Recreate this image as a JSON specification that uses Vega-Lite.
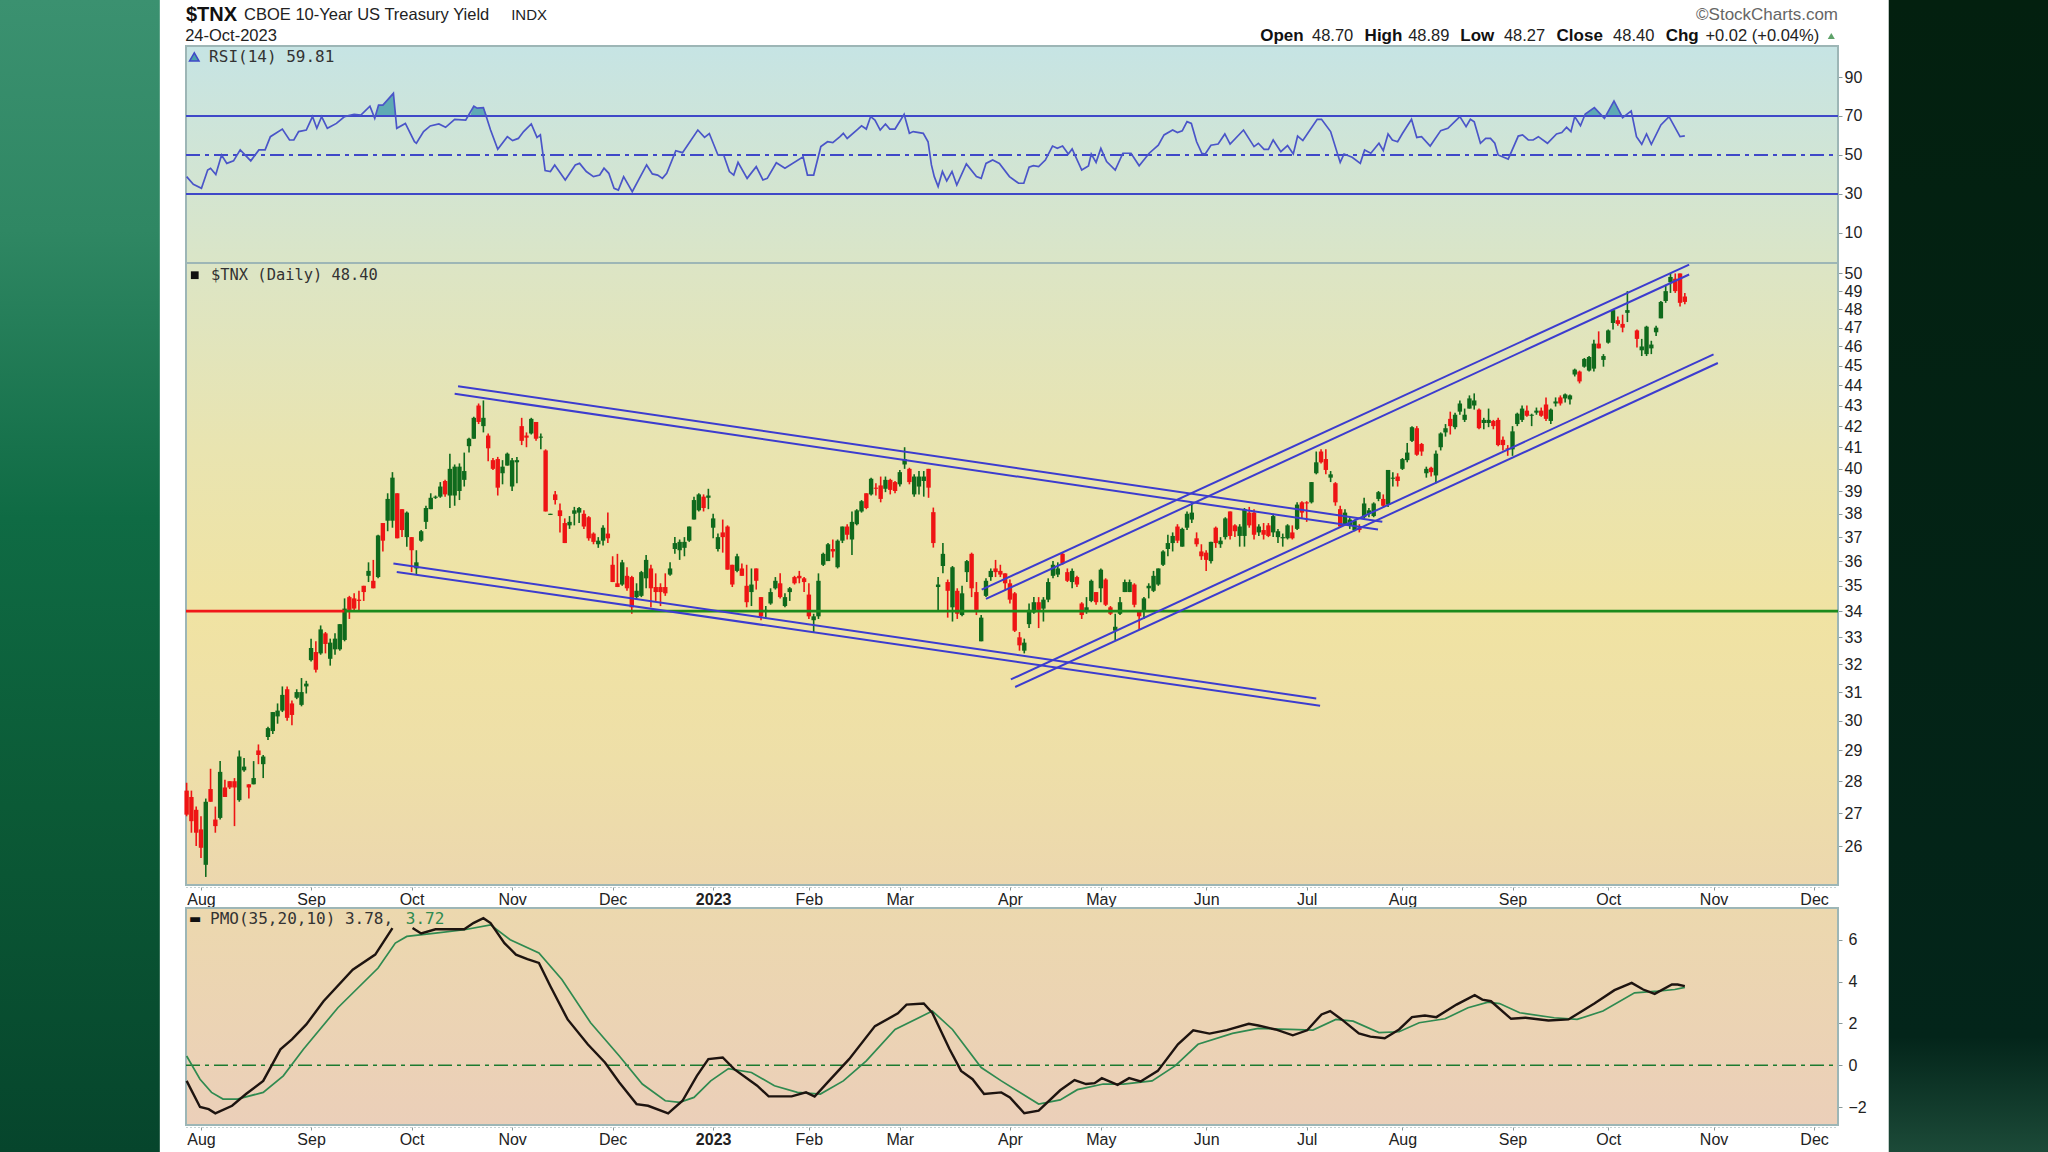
{"$schema":"https://vega.github.io/schema/vega-lite/v6.json",
"width":2048,"height":1152,"padding":0,"autosize":"none","background":"#ffffff",
"config":{"view":{"stroke":null},"axis":{"grid":false,"title":null,"labelFont":"Liberation Sans","labelFontSize":16,"labelColor":"#222222","tickColor":"#8a9a9a","labelOverlap":false,"labelFlush":false}},
"datasets":{
"candles":[
{"i":0,"o":27.7,"h":27.95,"l":26.9,"c":26.95,"d":"dn"},{"i":1,"o":27.5,"h":27.7,"l":26.4,"c":26.75,"d":"dn"},{"i":2,"o":27.1,"h":27.2,"l":26.0,"c":26.4,"d":"dn"},{"i":3,"o":26.5,"h":26.9,"l":25.65,"c":25.95,"d":"dn"},{"i":4,"o":25.45,"h":27.45,"l":25.1,"c":27.35,"d":"up"},{"i":5,"o":27.75,"h":28.4,"l":27.35,"c":27.35,"d":"dn"},{"i":6,"o":26.8,"h":27.2,"l":26.4,"c":26.6,"d":"dn"},{"i":7,"o":26.85,"h":28.65,"l":26.8,"c":28.3,"d":"up"},{"i":8,"o":27.8,"h":28.05,"l":27.5,"c":27.5,"d":"dn"},{"i":9,"o":28,"h":28,"l":27.75,"c":27.8,"d":"dn"},
{"i":10,"o":28,"h":28.1,"l":26.6,"c":27.8,"d":"dn"},{"i":11,"o":27.4,"h":29,"l":27.35,"c":28.8,"d":"up"},{"i":12,"o":28.35,"h":28.75,"l":28.3,"c":28.47,"d":"up"},{"i":13,"o":27.9,"h":27.9,"l":27.45,"c":27.8,"d":"dn"},{"i":14,"o":27.9,"h":28.65,"l":27.9,"c":28.1,"d":"up"},{"i":15,"o":29,"h":29.2,"l":28.55,"c":28.85,"d":"dn"},{"i":16,"o":28.55,"h":28.85,"l":28.1,"c":28.8,"d":"up"},{"i":17,"o":29.45,"h":29.8,"l":29.35,"c":29.75,"d":"up"},{"i":18,"o":29.65,"h":30.3,"l":29.55,"c":30.3,"d":"up"},{"i":19,"o":30.15,"h":30.6,"l":29.9,"c":30.35,"d":"up"},
{"i":20,"o":30.35,"h":31.2,"l":30.3,"c":30.9,"d":"up"},{"i":21,"o":31.1,"h":31.2,"l":30,"c":30.1,"d":"dn"},{"i":22,"o":30.6,"h":30.7,"l":29.85,"c":30.2,"d":"dn"},{"i":23,"o":30.8,"h":31.1,"l":30.75,"c":31,"d":"up"},{"i":24,"o":30.55,"h":31.5,"l":30.5,"c":31,"d":"up"},{"i":25,"o":31.2,"h":31.4,"l":30.95,"c":31.3,"d":"up"},{"i":26,"o":32.15,"h":32.95,"l":32.1,"c":32.6,"d":"up"},{"i":27,"o":32.45,"h":32.85,"l":31.7,"c":31.8,"d":"dn"},{"i":28,"o":32.4,"h":33.45,"l":32.35,"c":33.3,"d":"up"},{"i":29,"o":33.15,"h":33.2,"l":32.4,"c":32.75,"d":"dn"},
{"i":30,"o":32.2,"h":32.95,"l":31.95,"c":32.8,"d":"up"},{"i":31,"o":32.55,"h":33.15,"l":32.35,"c":32.95,"d":"up"},{"i":32,"o":32.55,"h":33.5,"l":32.5,"c":33.5,"d":"up"},{"i":33,"o":32.9,"h":34.5,"l":32.85,"c":34.1,"d":"up"},{"i":34,"o":34.55,"h":34.6,"l":33.7,"c":34.05,"d":"dn"},{"i":35,"o":34.5,"h":34.7,"l":34.05,"c":34.1,"d":"dn"},{"i":36,"o":34.45,"h":34.8,"l":34.05,"c":34.4,"d":"dn"},{"i":37,"o":35,"h":35,"l":34.4,"c":34.75,"d":"dn"},{"i":38,"o":35.4,"h":35.95,"l":35.15,"c":35.6,"d":"up"},{"i":39,"o":35.2,"h":36.05,"l":34.9,"c":34.9,"d":"dn"},
{"i":40,"o":35.35,"h":37.1,"l":35.3,"c":37.07,"d":"up"},{"i":41,"o":37.6,"h":37.6,"l":36.4,"c":36.85,"d":"dn"},{"i":42,"o":37.7,"h":38.9,"l":37.25,"c":38.65,"d":"up"},{"i":43,"o":37.7,"h":39.85,"l":37.4,"c":39.6,"d":"up"},{"i":44,"o":38.9,"h":38.9,"l":36.95,"c":36.95,"d":"dn"},{"i":45,"o":38.2,"h":38.2,"l":37,"c":37.3,"d":"dn"},{"i":46,"o":37,"h":38.1,"l":36.6,"c":38.05,"d":"up"},{"i":47,"o":37,"h":37,"l":35.55,"c":36.45,"d":"dn"},{"i":48,"o":35.7,"h":36.45,"l":35.45,"c":35.95,"d":"up"},{"i":49,"o":36.85,"h":37.3,"l":36.8,"c":37.25,"d":"up"},
{"i":50,"o":37.65,"h":38.35,"l":37.35,"c":38.25,"d":"up"},{"i":51,"o":38.2,"h":38.9,"l":38.2,"c":38.7,"d":"up"},{"i":52,"o":38.7,"h":38.8,"l":38.65,"c":38.75,"d":"up"},{"i":53,"o":38.75,"h":39.4,"l":38.7,"c":39.2,"d":"up"},{"i":54,"o":39.45,"h":39.5,"l":38.75,"c":38.85,"d":"dn"},{"i":55,"o":38.8,"h":40.7,"l":38.25,"c":40,"d":"up"},{"i":56,"o":38.8,"h":40.2,"l":38.35,"c":40.1,"d":"up"},{"i":57,"o":39,"h":40.25,"l":38.6,"c":40.1,"d":"up"},{"i":58,"o":39.5,"h":40.75,"l":39.2,"c":39.9,"d":"up"},{"i":59,"o":41.05,"h":41.45,"l":40.75,"c":41.4,"d":"up"},
{"i":60,"o":41.4,"h":42.45,"l":41.4,"c":42.4,"d":"up"},{"i":61,"o":43,"h":43.1,"l":42.1,"c":42.2,"d":"dn"},{"i":62,"o":42,"h":43.25,"l":41.7,"c":42.4,"d":"up"},{"i":63,"o":41.55,"h":41.65,"l":40.35,"c":40.95,"d":"dn"},{"i":64,"o":40.4,"h":40.5,"l":39.95,"c":40,"d":"dn"},{"i":65,"o":40.45,"h":40.55,"l":38.8,"c":39.15,"d":"dn"},{"i":66,"o":39.8,"h":40.4,"l":39.3,"c":40.1,"d":"up"},{"i":67,"o":40.15,"h":40.75,"l":40.15,"c":40.7,"d":"up"},{"i":68,"o":39.2,"h":40.5,"l":39,"c":40.4,"d":"up"},{"i":69,"o":40.3,"h":40.55,"l":39.35,"c":40.4,"d":"up"},
{"i":70,"o":42,"h":42.4,"l":41.1,"c":41.3,"d":"dn"},{"i":71,"o":41.55,"h":41.7,"l":41,"c":41.45,"d":"dn"},{"i":72,"o":41.65,"h":42.4,"l":41.6,"c":42.35,"d":"up"},{"i":73,"o":42.2,"h":42.2,"l":41.3,"c":41.4,"d":"dn"},{"i":74,"o":41.45,"h":41.65,"l":40.9,"c":41.5,"d":"up"},{"i":75,"o":40.85,"h":40.9,"l":38.1,"c":38.1,"d":"dn"},{"i":76,"o":38,"h":38,"l":37.95,"c":37.95,"d":"up"},{"i":77,"o":38.85,"h":39,"l":38.4,"c":38.6,"d":"dn"},{"i":78,"o":38.15,"h":38.45,"l":37.2,"c":37.9,"d":"dn"},{"i":79,"o":37.6,"h":37.8,"l":36.75,"c":36.75,"d":"dn"},
{"i":80,"o":37.5,"h":37.9,"l":37.35,"c":37.65,"d":"up"},{"i":81,"o":38,"h":38.3,"l":37.5,"c":38.15,"d":"up"},{"i":82,"o":38.05,"h":38.3,"l":37.6,"c":38.25,"d":"up"},{"i":83,"o":38,"h":38.15,"l":37.35,"c":37.45,"d":"dn"},{"i":84,"o":37.85,"h":37.9,"l":36.85,"c":36.95,"d":"dn"},{"i":85,"o":37.15,"h":37.2,"l":36.7,"c":36.8,"d":"dn"},{"i":86,"o":36.7,"h":37,"l":36.55,"c":36.85,"d":"up"},{"i":87,"o":36.85,"h":37.5,"l":36.65,"c":37.4,"d":"up"},{"i":88,"o":37.15,"h":38.05,"l":36.75,"c":36.95,"d":"dn"},{"i":89,"o":35.85,"h":36.2,"l":35.15,"c":35.15,"d":"dn"},
{"i":90,"o":35.1,"h":36.3,"l":34.95,"c":34.95,"d":"dn"},{"i":91,"o":35.05,"h":36.05,"l":35,"c":35.95,"d":"up"},{"i":92,"o":35.4,"h":35.75,"l":34.8,"c":34.9,"d":"dn"},{"i":93,"o":35.35,"h":35.4,"l":33.9,"c":34.15,"d":"dn"},{"i":94,"o":34.55,"h":35.1,"l":34.45,"c":34.8,"d":"up"},{"i":95,"o":34.6,"h":35.6,"l":34.55,"c":35.55,"d":"up"},{"i":96,"o":35.3,"h":36.25,"l":34.9,"c":36.05,"d":"up"},{"i":97,"o":35.7,"h":35.85,"l":34.15,"c":34.9,"d":"dn"},{"i":98,"o":34.95,"h":35.5,"l":34.4,"c":34.75,"d":"dn"},{"i":99,"o":34.95,"h":35.1,"l":34.2,"c":34.75,"d":"dn"},
{"i":100,"o":34.95,"h":35.5,"l":34.6,"c":34.7,"d":"dn"},{"i":101,"o":35.45,"h":35.95,"l":35.4,"c":35.7,"d":"up"},{"i":102,"o":36.5,"h":37,"l":36.3,"c":36.75,"d":"up"},{"i":103,"o":36.45,"h":36.9,"l":36.05,"c":36.8,"d":"up"},{"i":104,"o":36.55,"h":37,"l":36.2,"c":36.8,"d":"up"},{"i":105,"o":36.85,"h":37.45,"l":36.8,"c":37.45,"d":"up"},{"i":106,"o":37.75,"h":38.75,"l":37.75,"c":38.6,"d":"up"},{"i":107,"o":38.15,"h":38.9,"l":38.1,"c":38.85,"d":"up"},{"i":108,"o":38.75,"h":38.85,"l":38.1,"c":38.25,"d":"dn"},{"i":109,"o":38.7,"h":39.1,"l":38.2,"c":38.8,"d":"up"},
{"i":110,"o":37.4,"h":38,"l":36.95,"c":37.8,"d":"up"},{"i":111,"o":36.5,"h":37.15,"l":36.4,"c":37,"d":"up"},{"i":112,"o":37.2,"h":37.75,"l":36.35,"c":37,"d":"dn"},{"i":113,"o":37.45,"h":37.5,"l":35.65,"c":35.65,"d":"dn"},{"i":114,"o":35.85,"h":35.85,"l":34.95,"c":35.05,"d":"dn"},{"i":115,"o":35.6,"h":36.3,"l":35.55,"c":36.2,"d":"up"},{"i":116,"o":35.7,"h":35.9,"l":35.4,"c":35.4,"d":"dn"},{"i":117,"o":35,"h":35.85,"l":34.15,"c":34.35,"d":"dn"},{"i":118,"o":34.75,"h":35.7,"l":34.2,"c":35.05,"d":"up"},{"i":119,"o":35.7,"h":35.7,"l":34.85,"c":35.2,"d":"dn"},
{"i":120,"o":34.55,"h":34.55,"l":33.65,"c":33.8,"d":"dn"},{"i":121,"o":34,"h":34.2,"l":33.7,"c":34.05,"d":"up"},{"i":122,"o":34.3,"h":34.9,"l":34.25,"c":34.75,"d":"up"},{"i":123,"o":34.9,"h":35.35,"l":34.85,"c":35.2,"d":"up"},{"i":124,"o":35.1,"h":35.5,"l":34.5,"c":34.55,"d":"dn"},{"i":125,"o":34.2,"h":34.7,"l":34.15,"c":34.55,"d":"up"},{"i":126,"o":34.75,"h":34.95,"l":34.4,"c":34.9,"d":"up"},{"i":127,"o":35.35,"h":35.4,"l":35.05,"c":35.1,"d":"dn"},{"i":128,"o":35.4,"h":35.6,"l":35.1,"c":35.3,"d":"dn"},{"i":129,"o":35.3,"h":35.35,"l":34.75,"c":35.15,"d":"dn"},
{"i":130,"o":34.65,"h":35.1,"l":33.7,"c":33.8,"d":"dn"},{"i":131,"o":33.65,"h":33.9,"l":33.2,"c":33.8,"d":"up"},{"i":132,"o":33.8,"h":35.5,"l":33.7,"c":35.2,"d":"up"},{"i":133,"o":35.85,"h":36.35,"l":35.8,"c":36.3,"d":"up"},{"i":134,"o":36,"h":36.75,"l":36,"c":36.7,"d":"up"},{"i":135,"o":36.5,"h":36.9,"l":36.15,"c":36.4,"d":"dn"},{"i":136,"o":35.75,"h":36.9,"l":35.7,"c":36.85,"d":"up"},{"i":137,"o":36.85,"h":37.45,"l":36.75,"c":37.45,"d":"up"},{"i":138,"o":37.45,"h":37.55,"l":36.9,"c":37.1,"d":"dn"},{"i":139,"o":36.9,"h":38.1,"l":36.25,"c":37.65,"d":"up"},
{"i":140,"o":37.55,"h":38.2,"l":37.5,"c":38.15,"d":"up"},{"i":141,"o":38.1,"h":38.6,"l":38.05,"c":38.55,"d":"up"},{"i":142,"o":38.9,"h":38.9,"l":38.2,"c":38.25,"d":"dn"},{"i":143,"o":38.85,"h":39.6,"l":38.8,"c":39.55,"d":"up"},{"i":144,"o":39.15,"h":39.35,"l":38.8,"c":39.1,"d":"dn"},{"i":145,"o":39.25,"h":39.65,"l":38.5,"c":38.65,"d":"dn"},{"i":146,"o":39.1,"h":39.65,"l":38.95,"c":39.5,"d":"up"},{"i":147,"o":39.5,"h":39.55,"l":38.85,"c":39.05,"d":"dn"},{"i":148,"o":39.4,"h":39.45,"l":38.9,"c":39,"d":"dn"},{"i":149,"o":39.3,"h":39.95,"l":39.2,"c":39.85,"d":"up"},
{"i":150,"o":40.2,"h":41,"l":40,"c":40.45,"d":"up"},{"i":151,"o":40,"h":40.05,"l":39.3,"c":39.4,"d":"dn"},{"i":152,"o":38.85,"h":39.75,"l":38.75,"c":39.65,"d":"up"},{"i":153,"o":39.2,"h":39.9,"l":38.85,"c":39.65,"d":"up"},{"i":154,"o":39.45,"h":39.9,"l":38.75,"c":39.65,"d":"up"},{"i":155,"o":40,"h":40,"l":38.7,"c":39.15,"d":"dn"},{"i":156,"o":38.07,"h":38.27,"l":36.56,"c":36.75,"d":"dn"},{"i":157,"o":34.95,"h":35.35,"l":34,"c":35.05,"d":"up"},{"i":158,"o":35.8,"h":36.75,"l":35.5,"c":36.3,"d":"up"},{"i":159,"o":35.15,"h":35.25,"l":33.75,"c":34.8,"d":"dn"},
{"i":160,"o":34.15,"h":35.8,"l":33.6,"c":35.75,"d":"up"},{"i":161,"o":34.8,"h":34.9,"l":33.7,"c":33.9,"d":"dn"},{"i":162,"o":33.85,"h":35,"l":33.8,"c":34.7,"d":"up"},{"i":163,"o":35.55,"h":36.05,"l":35.15,"c":36,"d":"up"},{"i":164,"o":36.3,"h":36.35,"l":34.55,"c":34.9,"d":"dn"},{"i":165,"o":34.75,"h":35.15,"l":33.85,"c":34.05,"d":"dn"},{"i":166,"o":32.85,"h":33.85,"l":32.85,"c":33.75,"d":"up"},{"i":167,"o":34.6,"h":35.3,"l":34.55,"c":35.2,"d":"up"},{"i":168,"o":35.35,"h":35.7,"l":35.2,"c":35.6,"d":"up"},{"i":169,"o":35.7,"h":36.05,"l":35.35,"c":35.55,"d":"dn"},
{"i":170,"o":35.6,"h":35.85,"l":35.35,"c":35.45,"d":"dn"},{"i":171,"o":35.5,"h":35.5,"l":34.8,"c":35.1,"d":"dn"},{"i":172,"o":35.1,"h":35.25,"l":34.3,"c":34.45,"d":"dn"},{"i":173,"o":34.7,"h":34.75,"l":33.2,"c":33.25,"d":"dn"},{"i":174,"o":33,"h":33.2,"l":32.5,"c":32.7,"d":"dn"},{"i":175,"o":32.5,"h":32.95,"l":32.4,"c":32.8,"d":"up"},{"i":176,"o":33.5,"h":34.3,"l":33.35,"c":34.05,"d":"up"},{"i":177,"o":33.95,"h":34.55,"l":33.9,"c":34.35,"d":"up"},{"i":178,"o":34.35,"h":34.55,"l":33.35,"c":34.05,"d":"dn"},{"i":179,"o":34.1,"h":34.55,"l":33.6,"c":34.45,"d":"up"},
{"i":180,"o":34.45,"h":35.3,"l":34.35,"c":35.15,"d":"up"},{"i":181,"o":35.4,"h":36,"l":35.3,"c":35.85,"d":"up"},{"i":182,"o":35.45,"h":35.95,"l":35.35,"c":35.7,"d":"up"},{"i":183,"o":36.3,"h":36.35,"l":35.85,"c":35.9,"d":"dn"},{"i":184,"o":35.55,"h":35.7,"l":35.15,"c":35.2,"d":"dn"},{"i":185,"o":35.15,"h":35.7,"l":34.9,"c":35.6,"d":"up"},{"i":186,"o":35.35,"h":35.4,"l":34.95,"c":35.05,"d":"dn"},{"i":187,"o":34.3,"h":34.35,"l":33.7,"c":33.85,"d":"dn"},{"i":188,"o":34,"h":34.55,"l":33.9,"c":34.15,"d":"up"},{"i":189,"o":34.4,"h":35.25,"l":34.35,"c":35.2,"d":"up"},
{"i":190,"o":34.75,"h":34.75,"l":34.25,"c":34.35,"d":"dn"},{"i":191,"o":34.9,"h":35.7,"l":34.35,"c":35.65,"d":"up"},{"i":192,"o":35.25,"h":35.3,"l":34.2,"c":34.25,"d":"dn"},{"i":193,"o":34.15,"h":34.2,"l":33.85,"c":33.9,"d":"dn"},{"i":194,"o":33.25,"h":33.9,"l":32.9,"c":33.4,"d":"up"},{"i":195,"o":33.9,"h":34.55,"l":33.85,"c":34.35,"d":"up"},{"i":196,"o":34.75,"h":35.25,"l":34.75,"c":35.15,"d":"up"},{"i":197,"o":34.75,"h":35.25,"l":34.75,"c":35.15,"d":"up"},{"i":198,"o":35.05,"h":35.1,"l":34.15,"c":34.25,"d":"dn"},{"i":199,"o":34,"h":34.05,"l":33.3,"c":33.8,"d":"dn"},
{"i":200,"o":34,"h":34.55,"l":33.7,"c":34.5,"d":"up"},{"i":201,"o":34.9,"h":35.1,"l":34.5,"c":35,"d":"up"},{"i":202,"o":34.8,"h":35.6,"l":34.75,"c":35.4,"d":"up"},{"i":203,"o":35.05,"h":35.7,"l":35,"c":35.7,"d":"up"},{"i":204,"o":35.85,"h":36.45,"l":35.8,"c":36.4,"d":"up"},{"i":205,"o":36.5,"h":37.1,"l":36.2,"c":36.75,"d":"up"},{"i":206,"o":36.75,"h":37.2,"l":36.4,"c":37.05,"d":"up"},{"i":207,"o":37.45,"h":37.55,"l":36.75,"c":36.85,"d":"dn"},{"i":208,"o":36.6,"h":37.4,"l":36.6,"c":37.35,"d":"up"},{"i":209,"o":37.4,"h":38.1,"l":37.3,"c":38,"d":"up"},
{"i":210,"o":37.75,"h":38.5,"l":37.6,"c":38.05,"d":"up"},{"i":211,"o":36.95,"h":37.2,"l":36.6,"c":36.7,"d":"dn"},{"i":212,"o":36.4,"h":36.7,"l":36.05,"c":36.2,"d":"dn"},{"i":213,"o":36.35,"h":36.45,"l":35.6,"c":36.05,"d":"dn"},{"i":214,"o":36,"h":36.8,"l":35.9,"c":36.8,"d":"up"},{"i":215,"o":37.4,"h":37.45,"l":36.55,"c":36.75,"d":"dn"},{"i":216,"o":36.7,"h":37,"l":36.55,"c":36.85,"d":"up"},{"i":217,"o":37,"h":37.85,"l":36.9,"c":37.8,"d":"up"},{"i":218,"o":38.1,"h":38.1,"l":36.9,"c":37.05,"d":"dn"},{"i":219,"o":37.5,"h":37.55,"l":37,"c":37.25,"d":"dn"},
{"i":220,"o":37.05,"h":37.55,"l":36.6,"c":37.45,"d":"up"},{"i":221,"o":37.05,"h":38.25,"l":36.6,"c":38.2,"d":"up"},{"i":222,"o":38.05,"h":38.3,"l":37.4,"c":37.5,"d":"dn"},{"i":223,"o":38.05,"h":38.2,"l":36.9,"c":37.1,"d":"dn"},{"i":224,"o":37.2,"h":37.55,"l":37.05,"c":37.45,"d":"up"},{"i":225,"o":37.3,"h":37.6,"l":36.9,"c":37.1,"d":"dn"},{"i":226,"o":37.5,"h":37.6,"l":37,"c":37.05,"d":"dn"},{"i":227,"o":37.2,"h":38,"l":37,"c":37.9,"d":"up"},{"i":228,"o":37,"h":37.35,"l":36.75,"c":37.25,"d":"up"},{"i":229,"o":36.95,"h":37.15,"l":36.6,"c":37,"d":"up"},
{"i":230,"o":36.95,"h":37.55,"l":36.9,"c":37.5,"d":"up"},{"i":231,"o":37.2,"h":37.5,"l":36.9,"c":36.95,"d":"dn"},{"i":232,"o":37.35,"h":38.5,"l":37.3,"c":38.4,"d":"up"},{"i":233,"o":38.5,"h":38.55,"l":37.8,"c":38.05,"d":"dn"},{"i":234,"o":38.5,"h":38.55,"l":37.65,"c":38.45,"d":"dn"},{"i":235,"o":38.5,"h":39.4,"l":38.45,"c":39.4,"d":"up"},{"i":236,"o":39.8,"h":40.8,"l":39.75,"c":40.3,"d":"up"},{"i":237,"o":40.8,"h":40.9,"l":40.25,"c":40.3,"d":"dn"},{"i":238,"o":40.45,"h":40.9,"l":39.75,"c":39.95,"d":"dn"},{"i":239,"o":39.6,"h":39.9,"l":39.4,"c":39.75,"d":"up"},
{"i":240,"o":39.35,"h":39.4,"l":38.35,"c":38.5,"d":"dn"},{"i":241,"o":38.2,"h":38.35,"l":37.4,"c":37.45,"d":"dn"},{"i":242,"o":37.55,"h":38.2,"l":37.5,"c":38.05,"d":"up"},{"i":243,"o":37.5,"h":37.85,"l":37.35,"c":37.75,"d":"up"},{"i":244,"o":37.3,"h":37.75,"l":37.25,"c":37.7,"d":"up"},{"i":245,"o":37.4,"h":37.55,"l":37.2,"c":37.3,"d":"dn"},{"i":246,"o":37.85,"h":38.7,"l":37.75,"c":38.45,"d":"up"},{"i":247,"o":38,"h":38.25,"l":37.85,"c":38.15,"d":"up"},{"i":248,"o":37.9,"h":38.5,"l":37.85,"c":38.45,"d":"up"},{"i":249,"o":38.65,"h":39,"l":38.55,"c":38.95,"d":"up"},
{"i":250,"o":38.65,"h":38.85,"l":38.25,"c":38.35,"d":"dn"},{"i":251,"o":38.4,"h":39.95,"l":38.3,"c":39.95,"d":"up"},{"i":252,"o":39.55,"h":39.85,"l":39.2,"c":39.6,"d":"up"},{"i":253,"o":39.65,"h":39.8,"l":39.2,"c":39.45,"d":"dn"},{"i":254,"o":40,"h":40.5,"l":39.95,"c":40.45,"d":"up"},{"i":255,"o":40.4,"h":41.2,"l":40.3,"c":40.75,"d":"up"},{"i":256,"o":41.3,"h":42,"l":41.25,"c":41.95,"d":"up"},{"i":257,"o":41.9,"h":42,"l":40.6,"c":40.65,"d":"dn"},{"i":258,"o":41.15,"h":41.2,"l":40.6,"c":40.8,"d":"dn"},{"i":259,"o":39.8,"h":40.1,"l":39.6,"c":40,"d":"up"},
{"i":260,"o":40.05,"h":40.1,"l":39.65,"c":39.85,"d":"dn"},{"i":261,"o":39.7,"h":40.85,"l":39.35,"c":40.7,"d":"up"},{"i":262,"o":41,"h":41.7,"l":40.85,"c":41.65,"d":"up"},{"i":263,"o":41.7,"h":42.1,"l":41.5,"c":41.9,"d":"up"},{"i":264,"o":42.35,"h":42.7,"l":41.6,"c":42,"d":"dn"},{"i":265,"o":41.95,"h":42.65,"l":41.85,"c":42.55,"d":"up"},{"i":266,"o":42.7,"h":43.25,"l":42.55,"c":43.1,"d":"up"},{"i":267,"o":42.3,"h":42.85,"l":42.2,"c":42.55,"d":"up"},{"i":268,"o":42.85,"h":43.5,"l":42.85,"c":43.35,"d":"up"},{"i":269,"o":43,"h":43.6,"l":42.8,"c":43.25,"d":"up"},
{"i":270,"o":42.8,"h":42.85,"l":41.85,"c":41.9,"d":"dn"},{"i":271,"o":42.15,"h":42.4,"l":41.85,"c":42.3,"d":"up"},{"i":272,"o":42.15,"h":42.85,"l":41.95,"c":42.3,"d":"up"},{"i":273,"o":42.25,"h":42.3,"l":41.85,"c":42,"d":"dn"},{"i":274,"o":42.3,"h":42.4,"l":41.05,"c":41.1,"d":"dn"},{"i":275,"o":41.35,"h":41.5,"l":40.85,"c":41.1,"d":"dn"},{"i":276,"o":40.95,"h":41.1,"l":40.6,"c":40.9,"d":"dn"},{"i":277,"o":40.9,"h":42,"l":40.6,"c":41.75,"d":"up"},{"i":278,"o":42.1,"h":42.65,"l":42,"c":42.6,"d":"up"},{"i":279,"o":42.3,"h":43,"l":42.2,"c":42.85,"d":"up"},
{"i":280,"o":42.75,"h":43,"l":42.45,"c":42.5,"d":"dn"},{"i":281,"o":42.5,"h":42.6,"l":42,"c":42.55,"d":"up"},{"i":282,"o":42.65,"h":42.9,"l":42.55,"c":42.75,"d":"up"},{"i":283,"o":42.75,"h":42.9,"l":42.45,"c":42.5,"d":"dn"},{"i":284,"o":43.05,"h":43.4,"l":42.25,"c":42.35,"d":"dn"},{"i":285,"o":42.25,"h":42.85,"l":42.1,"c":42.8,"d":"up"},{"i":286,"o":43.1,"h":43.4,"l":42.95,"c":43.2,"d":"up"},{"i":287,"o":43.4,"h":43.5,"l":43,"c":43.1,"d":"dn"},{"i":288,"o":43.35,"h":43.6,"l":43.15,"c":43.55,"d":"up"},{"i":289,"o":43.3,"h":43.55,"l":43.05,"c":43.5,"d":"up"},
{"i":290,"o":44.55,"h":44.85,"l":44.45,"c":44.8,"d":"up"},{"i":291,"o":44.7,"h":44.75,"l":44.1,"c":44.2,"d":"dn"},{"i":292,"o":44.95,"h":45.4,"l":44.9,"c":45.35,"d":"up"},{"i":293,"o":44.75,"h":45.5,"l":44.7,"c":45.45,"d":"up"},{"i":294,"o":44.85,"h":46.35,"l":44.7,"c":46.15,"d":"up"},{"i":295,"o":46.15,"h":46.8,"l":45.9,"c":45.9,"d":"dn"},{"i":296,"o":45.3,"h":45.6,"l":44.95,"c":45.5,"d":"up"},{"i":297,"o":46.2,"h":46.9,"l":46.15,"c":46.85,"d":"up"},{"i":298,"o":47.25,"h":48,"l":46.9,"c":47.95,"d":"up"},{"i":299,"o":47.4,"h":47.6,"l":47.1,"c":47.2,"d":"dn"},
{"i":300,"o":47.2,"h":47.7,"l":46.75,"c":47,"d":"dn"},{"i":301,"o":47.8,"h":49,"l":47.3,"c":47.95,"d":"up"},{"i":303,"o":46.85,"h":46.9,"l":45.95,"c":46.4,"d":"dn"},{"i":304,"o":45.8,"h":46.4,"l":45.5,"c":46,"d":"up"},{"i":305,"o":45.6,"h":47.1,"l":45.5,"c":47.05,"d":"up"},{"i":306,"o":45.9,"h":46.3,"l":45.6,"c":46.1,"d":"up"},{"i":307,"o":46.75,"h":47.1,"l":46.55,"c":47,"d":"up"},{"i":308,"o":47.5,"h":48.45,"l":47.5,"c":48.4,"d":"up"},{"i":309,"o":48.45,"h":49.35,"l":48.35,"c":49,"d":"up"},
{"i":310,"o":49.5,"h":50,"l":48.9,"c":49.8,"d":"up"},{"i":311,"o":49.7,"h":50,"l":48.9,"c":49,"d":"dn"},{"i":312,"o":50,"h":50,"l":48.15,"c":48.35,"d":"dn"},{"i":313,"o":48.7,"h":48.89,"l":48.27,"c":48.4,"d":"dn"}
],
"rsi":[
{"i":0,"v":38.9},{"i":1.4,"v":35},{"i":3.1,"v":32.9},{"i":4.4,"v":42.3},{"i":5,"v":43.2},{"i":6.1,"v":40},{"i":7.3,"v":50},{"i":8.4,"v":45.7},{"i":9.8,"v":47},{"i":11.2,"v":52.6},{"i":13.4,"v":47},{"i":15.1,"v":52.6},{"i":16.4,"v":52.6},{"i":17.5,"v":59.4},{"i":20,"v":63.3},{"i":21.5,"v":57.7},{"i":22.4,"v":57.7},{"i":23.4,"v":62},{"i":25,"v":62.8},{"i":26.3,"v":69.7},{"i":27.2,"v":63.7},{"i":28.2,"v":69.7},{"i":29.4,"v":63.7},{"i":31.3,"v":66.2},{"i":33,"v":69.7},{"i":35,"v":70.9},{"i":36.4,"v":70.5},{"i":38.3,"v":75},{"i":39.3,"v":68.8},{"i":40.1,"v":75.6},{"i":41,"v":75.6},{"i":43.2,"v":81.6},{"i":43.9,"v":63.7},{"i":45.7,"v":66.2},{"i":47.6,"v":56.8},{"i":48,"v":56},{"i":49.5,"v":62},{"i":50.9,"v":64.9},{"i":52.7,"v":65.9},{"i":54.1,"v":64.2},{"i":56,"v":68.3},{"i":58.3,"v":67.9},{"i":60,"v":75},{"i":60.7,"v":74},{"i":62,"v":74.3},{"i":63.5,"v":62.8},{"i":65,"v":52.9},{"i":67,"v":59.4},{"i":68.1,"v":57.4},{"i":69.3,"v":58.5},{"i":70.4,"v":62},{"i":72,"v":65.9},{"i":73.2,"v":59},{"i":73.9,"v":60.3},{"i":74.9,"v":42},{"i":76,"v":41.5},{"i":76.9,"v":44.9},{"i":79.1,"v":37.2},{"i":81.2,"v":44.9},{"i":82.1,"v":45.7},{"i":83.5,"v":41.5},{"i":85,"v":38.9},{"i":86.3,"v":39.7},{"i":87.2,"v":43.2},{"i":88.2,"v":40.6},{"i":89.3,"v":32.9},{"i":90.2,"v":32},{"i":91.3,"v":38.9},{"i":93.1,"v":31.2},{"i":96.1,"v":44.9},{"i":97.3,"v":40.3},{"i":98.4,"v":39.7},{"i":99.4,"v":38},{"i":100.3,"v":40.6},{"i":102.2,"v":52.2},{"i":103.6,"v":51.2},{"i":106.8,"v":62.8},{"i":108.2,"v":59},{"i":109.2,"v":61},{"i":111,"v":50},{"i":112.2,"v":50},{"i":113.4,"v":41.5},{"i":114.3,"v":39.7},{"i":115.2,"v":46.2},{"i":117.1,"v":38},{"i":119,"v":44},{"i":120.4,"v":37.2},{"i":121.3,"v":38},{"i":123.2,"v":46},{"i":125,"v":43.2},{"i":128.8,"v":49.1},{"i":129.7,"v":39.7},{"i":131,"v":39.7},{"i":132.5,"v":54.3},{"i":133.9,"v":56.8},{"i":135,"v":56.3},{"i":136.5,"v":59.4},{"i":137.2,"v":61.1},{"i":138,"v":58.5},{"i":140,"v":62.8},{"i":141,"v":65},{"i":142,"v":63.3},{"i":142.9,"v":69.7},{"i":143.8,"v":67.9},{"i":144.9,"v":62.8},{"i":146,"v":65.9},{"i":146.9,"v":63.3},{"i":148,"v":63.3},{"i":149.9,"v":70.9},{"i":151,"v":61.1},{"i":151.8,"v":62},{"i":153.9,"v":61.1},{"i":154.9,"v":56.8},{"i":155.6,"v":44.9},{"i":156.2,"v":38.9},{"i":157,"v":33.8},{"i":157.9,"v":41.5},{"i":158.8,"v":36.7},{"i":159.9,"v":41.5},{"i":160.9,"v":34.6},{"i":162.9,"v":45.4},{"i":165,"v":38.9},{"i":166,"v":38},{"i":167,"v":45.7},{"i":168.4,"v":47.4},{"i":169.8,"v":45.7},{"i":171.9,"v":38.9},{"i":173.8,"v":35.5},{"i":174.9,"v":35.5},{"i":176,"v":43.7},{"i":176.9,"v":44.5},{"i":178,"v":44},{"i":179.4,"v":47.4},{"i":180.9,"v":54.6},{"i":181.9,"v":53.4},{"i":183,"v":54.6},{"i":184.2,"v":50.5},{"i":185,"v":53.1},{"i":187,"v":42.3},{"i":188.4,"v":44.4},{"i":189,"v":50.5},{"i":190,"v":46.2},{"i":191,"v":53.4},{"i":192.2,"v":46.6},{"i":194,"v":42.3},{"i":195.6,"v":50.9},{"i":197.3,"v":50.9},{"i":199,"v":44.5},{"i":201.1,"v":50.9},{"i":203,"v":55},{"i":204.2,"v":60.3},{"i":206,"v":62.8},{"i":207,"v":61.5},{"i":208,"v":62.4},{"i":209,"v":67.1},{"i":209.9,"v":66.2},{"i":211,"v":56.8},{"i":212.1,"v":50.9},{"i":212.8,"v":50.5},{"i":214,"v":55},{"i":215.5,"v":55.6},{"i":216.9,"v":60.8},{"i":218,"v":55.6},{"i":220.8,"v":62.8},{"i":223,"v":54.3},{"i":223.9,"v":56},{"i":225.1,"v":52.9},{"i":226,"v":52.9},{"i":227,"v":57.7},{"i":228.6,"v":51.7},{"i":230,"v":54.8},{"i":231.2,"v":50.5},{"i":232.1,"v":59.7},{"i":233.2,"v":57.4},{"i":236.2,"v":68.3},{"i":237.1,"v":68.3},{"i":239,"v":62},{"i":241,"v":46.2},{"i":241.8,"v":50.5},{"i":243.5,"v":48.8},{"i":245.2,"v":45.7},{"i":246.1,"v":52.6},{"i":247.4,"v":50.9},{"i":249.1,"v":56},{"i":250,"v":52.2},{"i":251,"v":60.8},{"i":251.9,"v":57.7},{"i":253,"v":56.8},{"i":254,"v":61},{"i":255.9,"v":68.3},{"i":257,"v":59},{"i":258,"v":59.4},{"i":259.8,"v":54.6},{"i":262,"v":62.5},{"i":263.5,"v":63.7},{"i":266,"v":69.7},{"i":267.3,"v":64.5},{"i":268.2,"v":68.3},{"i":269,"v":67},{"i":270.3,"v":56},{"i":271.4,"v":58.5},{"i":272.4,"v":58.5},{"i":273.3,"v":56},{"i":274,"v":50},{"i":276.1,"v":47.9},{"i":278.2,"v":59.7},{"i":279.1,"v":60.3},{"i":280.3,"v":57.7},{"i":281.3,"v":57.7},{"i":282.4,"v":59.4},{"i":284.3,"v":56},{"i":286.2,"v":60.8},{"i":287.3,"v":61.5},{"i":288.3,"v":64.2},{"i":289.2,"v":62},{"i":290,"v":69.7},{"i":291.2,"v":65},{"i":292.2,"v":71},{"i":294.1,"v":74.3},{"i":296.2,"v":68.8},{"i":298.2,"v":77.7},{"i":300,"v":69.1},{"i":301.8,"v":72.6},{"i":302.9,"v":59.4},{"i":304,"v":55.5},{"i":305,"v":60.8},{"i":306,"v":55.5},{"i":308,"v":65.4},{"i":309.7,"v":69.7},{"i":312,"v":59.4},{"i":313,"v":59.81}
],
"overbought":[
{"g":"a","i":39.5,"v":70},{"g":"a","i":40.1,"v":75.6},{"g":"a","i":41,"v":75.6},{"g":"a","i":43.2,"v":81.6},{"g":"a","i":43.7,"v":70},
{"g":"b","i":59.2,"v":70},{"g":"b","i":60,"v":75},{"g":"b","i":60.7,"v":74},{"g":"b","i":62,"v":74.3},{"g":"b","i":62.8,"v":70},
{"g":"c","i":291.8,"v":70},{"g":"c","i":292.2,"v":71},{"g":"c","i":294.1,"v":74.3},{"g":"c","i":295.8,"v":70},
{"g":"d","i":296.5,"v":70},{"g":"d","i":298.2,"v":77.7},{"g":"d","i":299.9,"v":70}
],
"pmo":[
{"i":0,"v":-0.75},{"i":2.8,"v":-2},{"i":4.6,"v":-2.1},{"i":6,"v":-2.3},{"i":9.5,"v":-1.94},{"i":12.4,"v":-1.38},{"i":16,"v":-0.75},{"i":19.6,"v":0.76},{"i":22,"v":1.24},{"i":25,"v":1.95},{"i":28.6,"v":3.06},{"i":34.7,"v":4.57},{"i":39.4,"v":5.29},{"i":43,"v":6.56},{"i":45,"v":null},{"i":47.2,"v":6.56},{"i":49,"v":6.3},{"i":52,"v":6.5},{"i":58,"v":6.5},{"i":59.9,"v":6.8},{"i":62,"v":7.03},{"i":63.5,"v":6.8},{"i":66.4,"v":5.84},{"i":68.8,"v":5.29},{"i":71.2,"v":5.08},{"i":73.6,"v":4.89},{"i":76,"v":3.78},{"i":79.6,"v":2.19},{"i":83.8,"v":1},{"i":87.4,"v":0.13},{"i":90.4,"v":-0.83},{"i":94,"v":-1.86},{"i":96.4,"v":-1.94},{"i":100.6,"v":-2.3},{"i":103.6,"v":-1.7},{"i":106.6,"v":-0.51},{"i":109,"v":0.29},{"i":112,"v":0.37},{"i":114.4,"v":-0.19},{"i":119.2,"v":-0.98},{"i":121.6,"v":-1.49},{"i":126.4,"v":-1.49},{"i":129.4,"v":-1.3},{"i":131.2,"v":-1.5},{"i":134.2,"v":-0.75},{"i":138.4,"v":0.29},{"i":143.8,"v":1.87},{"i":148.6,"v":2.48},{"i":150.4,"v":2.9},{"i":154,"v":2.95},{"i":155.8,"v":2.5},{"i":159.4,"v":0.76},{"i":161.8,"v":-0.27},{"i":164.2,"v":-0.67},{"i":166.6,"v":-1.38},{"i":170.2,"v":-1.3},{"i":172,"v":-1.54},{"i":175,"v":-2.3},{"i":178,"v":-2.17},{"i":182.5,"v":-1.2},{"i":185.5,"v":-0.71},{"i":187.9,"v":-0.9},{"i":189.7,"v":-0.86},{"i":191.2,"v":-0.62},{"i":194.5,"v":-0.94},{"i":196.9,"v":-0.62},{"i":199.3,"v":-0.78},{"i":202.9,"v":-0.27},{"i":207.1,"v":1},{"i":210.3,"v":1.67},{"i":213.7,"v":1.51},{"i":217.3,"v":1.68},{"i":221.9,"v":1.98},{"i":223.9,"v":1.9},{"i":227.5,"v":1.71},{"i":231.1,"v":1.43},{"i":234.1,"v":1.67},{"i":237.1,"v":2.43},{"i":238.9,"v":2.59},{"i":241.3,"v":2.19},{"i":244.9,"v":1.52},{"i":247.3,"v":1.37},{"i":250.3,"v":1.29},{"i":253.3,"v":1.71},{"i":256,"v":2.3},{"i":258.7,"v":2.38},{"i":261.1,"v":2.3},{"i":265.3,"v":2.9},{"i":269.1,"v":3.35},{"i":270.7,"v":3.14},{"i":272.5,"v":3.06},{"i":276.7,"v":2.22},{"i":279.7,"v":2.27},{"i":284.5,"v":2.14},{"i":288.7,"v":2.19},{"i":294.1,"v":2.95},{"i":298.3,"v":3.59},{"i":301.9,"v":3.94},{"i":304.3,"v":3.62},{"i":306.7,"v":3.41},{"i":310.3,"v":3.86},{"i":311.5,"v":3.86},{"i":313,"v":3.78}
],
"signal":[
{"i":0,"v":0.44},{"i":2.8,"v":-0.67},{"i":5.2,"v":-1.3},{"i":7.6,"v":-1.62},{"i":10.6,"v":-1.62},{"i":16,"v":-1.3},{"i":20.2,"v":-0.51},{"i":24.4,"v":0.76},{"i":31.6,"v":2.75},{"i":40,"v":4.65},{"i":43.6,"v":5.84},{"i":46,"v":6.16},{"i":52,"v":6.32},{"i":58,"v":6.48},{"i":63.5,"v":6.71},{"i":67.6,"v":6},{"i":73.6,"v":5.37},{"i":78.4,"v":4.1},{"i":84.4,"v":2.03},{"i":90.4,"v":0.44},{"i":95.2,"v":-0.9},{"i":100,"v":-1.7},{"i":103,"v":-1.78},{"i":106,"v":-1.54},{"i":109.5,"v":-0.75},{"i":113.2,"v":-0.16},{"i":118,"v":-0.35},{"i":122.8,"v":-0.98},{"i":127.6,"v":-1.3},{"i":132.4,"v":-1.38},{"i":137.2,"v":-0.75},{"i":142,"v":0.21},{"i":148,"v":1.71},{"i":155.8,"v":2.59},{"i":160,"v":1.71},{"i":166,"v":-0.11},{"i":170.2,"v":-0.75},{"i":178,"v":-1.86},{"i":182.5,"v":-1.66},{"i":186.1,"v":-1.17},{"i":191.5,"v":-0.9},{"i":195.7,"v":-0.9},{"i":201.7,"v":-0.75},{"i":206.5,"v":-0.03},{"i":211.3,"v":1},{"i":218.5,"v":1.52},{"i":223.9,"v":1.76},{"i":230.5,"v":1.71},{"i":235.3,"v":1.68},{"i":240.1,"v":2.19},{"i":243.7,"v":2.11},{"i":249.1,"v":1.56},{"i":253.3,"v":1.6},{"i":257.5,"v":2.03},{"i":262.9,"v":2.22},{"i":267.7,"v":2.75},{"i":271.9,"v":3.02},{"i":274.3,"v":2.95},{"i":278.5,"v":2.51},{"i":285.7,"v":2.27},{"i":290.5,"v":2.19},{"i":295.9,"v":2.59},{"i":302.5,"v":3.46},{"i":307.3,"v":3.54},{"i":310.9,"v":3.62},{"i":313,"v":3.72}
],
"trend":[
{"line":"a","i":56.7,"v":43.96},{"line":"a","i":249.8,"v":37.66},{"line":"b","i":56,"v":43.58},{"line":"b","i":248.9,"v":37.32},
{"line":"c","i":43.2,"v":35.9},{"line":"c","i":236,"v":30.77},{"line":"d","i":43.9,"v":35.56},{"line":"d","i":236.8,"v":30.52},
{"line":"e","i":166.1,"v":34.85},{"line":"e","i":313.9,"v":50.51},{"line":"f","i":167,"v":34.48},{"line":"f","i":313.9,"v":49.94},
{"line":"g","i":172.2,"v":31.45},{"line":"g","i":319,"v":45.59},{"line":"h","i":173.1,"v":31.18},{"line":"h","i":319.9,"v":45.14}
]
},
"encoding":{"x":{"field":"i","type":"quantitative","scale":{"domain":[-0.13,345],"range":[186,1838],"padding":0,"nice":false,"zero":false},"axis":null}},
"resolve":{"scale":{"y":"independent"},"axis":{"x":"independent","y":"independent"}},
"layer":[
{"data":{"values":[{"i":-39,"i2":-5.6}]},
 "mark":{"type":"rect","color":{"gradient":"linear","x1":0,"y1":0,"x2":0,"y2":1,"stops":[{"offset":0,"color":"#3b9170"},{"offset":0.2,"color":"#2f8763"},{"offset":0.45,"color":"#0f6b44"},{"offset":0.7,"color":"#0b5a36"},{"offset":1,"color":"#06452c"}]}},
 "encoding":{"x2":{"field":"i2"}}},
{"data":{"values":[{"i":355.6,"i2":389}]},
 "mark":{"type":"rect","color":{"gradient":"linear","x1":0,"y1":0,"x2":0,"y2":1,"stops":[{"offset":0,"color":"#03200f"},{"offset":0.9,"color":"#03251a"},{"offset":1,"color":"#1c4a38"}]}},
 "encoding":{"x2":{"field":"i2"}}},
{"encoding":{"y":{"field":"v","type":"quantitative","scale":{"domain":[-5.4,105.9],"range":[263,46],"nice":false,"zero":false},"axis":null}},
 "resolve":{"axis":{"x":"independent","y":"independent"}},
 "layer":[
 {"data":{"values":[{"i":-0.13,"i2":345,"v":-5.4,"v2":105.9}]},
  "mark":{"type":"rect","stroke":"#9db6b6","strokeWidth":2,"color":{"gradient":"linear","x1":0,"y1":0,"x2":0,"y2":1,"stops":[{"offset":0,"color":"#c6e4e4"},{"offset":1,"color":"#dae5c7"}]}},
  "encoding":{"x2":{"field":"i2"},"y":{"field":"v","type":"quantitative","scale":{"domain":[-5.4,105.9],"range":[263,46],"nice":false,"zero":false},"axis":{"orient":"right","offset":-210,"values":[10,30,50,70,90],"tickSize":4,"labelPadding":2,"domain":true,"domainDash":[1,3],"domainColor":"#8aa5a5"}},"y2":{"field":"v2"}}},
 {"data":{"name":"overbought"},"mark":{"type":"area","color":"#4aa0ad","opacity":0.85},"encoding":{"y2":{"datum":70},"detail":{"field":"g"}}},
 {"data":{"values":[{"i":-0.13,"i2":345,"v":70},{"i":-0.13,"i2":345,"v":30}]},"mark":{"type":"rule","color":"#3f48c8","strokeWidth":2},"encoding":{"x2":{"field":"i2"}}},
 {"data":{"values":[{"i":-0.13,"i2":345,"v":50}]},"mark":{"type":"rule","color":"#3f48c8","strokeWidth":1.8,"strokeDash":[14,5,4,5]},"encoding":{"x2":{"field":"i2"}}},
 {"data":{"name":"rsi"},"mark":{"type":"line","color":"#4a55c8","strokeWidth":1.7}},
 {"data":{"values":[{"t":"$TNX","i":-0.13,"v":121.8}]},"mark":{"type":"text","align":"left","baseline":"middle","font":"Liberation Sans","fontSize":20,"fontWeight":"bold","color":"#111111"},"encoding":{"text":{"field":"t"}}},
 {"data":{"values":[{"t":"CBOE 10-Year US Treasury Yield","i":12,"v":121.8},{"t":"24-Oct-2023","i":-0.3,"v":111},{"t":"48.70","i":235.1,"v":111},{"t":"48.89","i":255.2,"v":111},{"t":"48.27","i":275.2,"v":111},{"t":"48.40","i":298,"v":111},{"t":"+0.02 (+0.04%)","i":317.3,"v":111}]},"mark":{"type":"text","align":"left","baseline":"middle","font":"Liberation Sans","fontSize":16.5,"color":"#222222"},"encoding":{"text":{"field":"t"}}},
 {"data":{"values":[{"t":"INDX","i":67.8,"v":121.8}]},"mark":{"type":"text","align":"left","baseline":"middle","font":"Liberation Sans","fontSize":15,"color":"#222222"},"encoding":{"text":{"field":"t"}}},
 {"data":{"values":[{"t":"Open","i":224.3,"v":111},{"t":"High","i":246.1,"v":111},{"t":"Low","i":266.1,"v":111},{"t":"Close","i":286.2,"v":111},{"t":"Chg","i":309,"v":111}]},"mark":{"type":"text","align":"left","baseline":"middle","font":"Liberation Sans","fontSize":17,"fontWeight":"bold","color":"#111111"},"encoding":{"text":{"field":"t"}}},
 {"data":{"values":[{"t":"©StockCharts.com","i":345,"v":121.8}]},"mark":{"type":"text","align":"right","baseline":"middle","font":"Liberation Sans","fontSize":17,"color":"#666666"},"encoding":{"text":{"field":"t"}}},
 {"data":{"values":[{"i":343.6,"v":111}]},"mark":{"type":"point","shape":"triangle-up","filled":true,"size":50,"color":"#1a7a2a"}},
 {"data":{"values":[{"i":1.6,"v":100.3}]},"mark":{"type":"point","shape":"triangle-up","filled":true,"size":90,"color":"#4aa0ad","stroke":"#3f48c8","strokeWidth":1.5,"opacity":1}},
 {"data":{"values":[{"t":"RSI(14) 59.81","i":4.7,"v":100.3}]},"mark":{"type":"text","align":"left","baseline":"middle","font":"DejaVu Sans Mono","fontSize":16,"color":"#333333"},"encoding":{"text":{"field":"t"}}}
 ]},
{"encoding":{"y":{"field":"v","type":"quantitative","scale":{"type":"log","domain":[24.87,50.6],"range":[885,263],"nice":false,"zero":false},"axis":null}},
 "resolve":{"axis":{"x":"independent","y":"independent"}},
 "layer":[
 {"data":{"values":[{"i":-0.13,"i2":345,"v":24.87,"v2":50.6}]},
  "mark":{"type":"rect","stroke":"#9db6b6","strokeWidth":2,"color":{"gradient":"linear","x1":0,"y1":0,"x2":0,"y2":1,"stops":[{"offset":0,"color":"#dce5c5"},{"offset":0.3,"color":"#e9e4b0"},{"offset":0.56,"color":"#f0e3a3"},{"offset":0.8,"color":"#eedfa8"},{"offset":1,"color":"#ecd7ae"}]}},
  "encoding":{"x":{"field":"i","type":"quantitative","scale":{"domain":[-0.13,345],"range":[186,1838],"padding":0,"nice":false,"zero":false},"axis":{"orient":"bottom","offset":-265,"values":[3,26,47,68,89,110,130,149,172,191,213,234,254,277,297,319,340],"labelExpr":"{'3':'Aug','26':'Sep','47':'Oct','68':'Nov','89':'Dec','110':'2023','130':'Feb','149':'Mar','172':'Apr','191':'May','213':'Jun','234':'Jul','254':'Aug','277':'Sep','297':'Oct','319':'Nov','340':'Dec'}[datum.value]","labelFontWeight":{"condition":{"test":"datum.value==110","value":"bold"},"value":"normal"},"tickSize":3,"labelPadding":1,"domain":true,"domainDash":[1,3],"domainColor":"#8aa5a5"}},"x2":{"field":"i2"},
   "y":{"field":"v","type":"quantitative","scale":{"type":"log","domain":[24.87,50.6],"range":[885,263],"nice":false,"zero":false},"axis":{"orient":"right","offset":-210,"values":[26,27,28,29,30,31,32,33,34,35,36,37,38,39,40,41,42,43,44,45,46,47,48,49,50],"format":"d","tickSize":4,"labelPadding":2,"domain":true,"domainDash":[1,3],"domainColor":"#8aa5a5"}},"y2":{"field":"v2"}}},
 {"data":{"name":"candles"},"mark":{"type":"rule","strokeWidth":1.6},"encoding":{"y":{"field":"l","type":"quantitative","scale":{"type":"log","domain":[24.87,50.6],"range":[885,263],"nice":false,"zero":false},"axis":null},"y2":{"field":"h"},"color":{"field":"d","type":"nominal","scale":{"domain":["up","dn"],"range":["#0f6a1c","#ee1414"]},"legend":null}}},
 {"data":{"name":"candles"},"mark":{"type":"bar","width":4.4},"encoding":{"y":{"field":"o","type":"quantitative","scale":{"type":"log","domain":[24.87,50.6],"range":[885,263],"nice":false,"zero":false},"axis":null},"y2":{"field":"c"},"color":{"field":"d","type":"nominal","scale":{"domain":["up","dn"],"range":["#0f6a1c","#ee1414"]},"legend":null}}},
 {"data":{"values":[{"i":-0.13,"i2":33,"v":34}]},"mark":{"type":"rule","color":"#f01818","strokeWidth":2.6},"encoding":{"x2":{"field":"i2"}}},
 {"data":{"values":[{"i":33,"i2":345,"v":34}]},"mark":{"type":"rule","color":"#1c8a1c","strokeWidth":2.6},"encoding":{"x2":{"field":"i2"}}},
 {"data":{"name":"trend"},"mark":{"type":"line","color":"#3c3ccf","strokeWidth":2},"encoding":{"detail":{"field":"line"}}},
 {"data":{"values":[{"i":1.7,"v":49.9}]},"mark":{"type":"point","shape":"square","filled":true,"size":60,"color":"#111111","opacity":1}},
 {"data":{"values":[{"t":"$TNX (Daily) 48.40","i":5.1,"v":49.9}]},"mark":{"type":"text","align":"left","baseline":"middle","font":"DejaVu Sans Mono","fontSize":15.4,"color":"#333333"},"encoding":{"text":{"field":"t"}}}
 ]},
{"encoding":{"y":{"field":"v","type":"quantitative","scale":{"domain":[-2.86,7.52],"range":[1125,908],"nice":false,"zero":false},"axis":null}},
 "resolve":{"axis":{"x":"independent","y":"independent"}},
 "layer":[
 {"data":{"values":[{"i":-0.13,"i2":345,"v":-2.86,"v2":7.52}]},
  "mark":{"type":"rect","stroke":"#9db6b6","strokeWidth":2,"color":{"gradient":"linear","x1":0,"y1":0,"x2":0,"y2":1,"stops":[{"offset":0,"color":"#ecd8ae"},{"offset":1,"color":"#ebcfb9"}]}},
  "encoding":{"x":{"field":"i","type":"quantitative","scale":{"domain":[-0.13,345],"range":[186,1838],"padding":0,"nice":false,"zero":false},"axis":{"orient":"bottom","offset":-25,"values":[3,26,47,68,89,110,130,149,172,191,213,234,254,277,297,319,340],"labelExpr":"{'3':'Aug','26':'Sep','47':'Oct','68':'Nov','89':'Dec','110':'2023','130':'Feb','149':'Mar','172':'Apr','191':'May','213':'Jun','234':'Jul','254':'Aug','277':'Sep','297':'Oct','319':'Nov','340':'Dec'}[datum.value]","labelFontWeight":{"condition":{"test":"datum.value==110","value":"bold"},"value":"normal"},"tickSize":3,"labelPadding":1,"domain":true,"domainDash":[1,3],"domainColor":"#8aa5a5"}},"x2":{"field":"i2"},
   "y":{"field":"v","type":"quantitative","scale":{"domain":[-2.86,7.52],"range":[1125,908],"nice":false,"zero":false},"axis":{"orient":"right","offset":-210,"values":[-2,0,2,4,6],"tickSize":4,"labelPadding":6,"domain":true,"domainDash":[1,3],"domainColor":"#8aa5a5"}},"y2":{"field":"v2"}}},
 {"data":{"values":[{"i":-0.13,"i2":345,"v":0}]},"mark":{"type":"rule","color":"#1c7a30","strokeWidth":1.6,"strokeDash":[14,5,4,5]},"encoding":{"x2":{"field":"i2"}}},
 {"data":{"name":"signal"},"mark":{"type":"line","color":"#2f8a50","strokeWidth":1.7}},
 {"data":{"name":"pmo"},"mark":{"type":"line","color":"#1e1410","strokeWidth":2.4}},
 {"data":{"values":[{"t":"▬","i":0.5,"v":7}]},"mark":{"type":"text","align":"left","baseline":"middle","font":"DejaVu Sans","fontSize":13,"color":"#111111"},"encoding":{"text":{"field":"t"}}},
 {"data":{"values":[{"t":"PMO(35,20,10) 3.78,","i":4.9,"v":7}]},"mark":{"type":"text","align":"left","baseline":"middle","font":"DejaVu Sans Mono","fontSize":16,"color":"#333333"},"encoding":{"text":{"field":"t"}}},
 {"data":{"values":[{"t":"3.72","i":45.8,"v":7}]},"mark":{"type":"text","align":"left","baseline":"middle","font":"DejaVu Sans Mono","fontSize":16,"color":"#2f8a50"},"encoding":{"text":{"field":"t"}}}
 ]}
]}
